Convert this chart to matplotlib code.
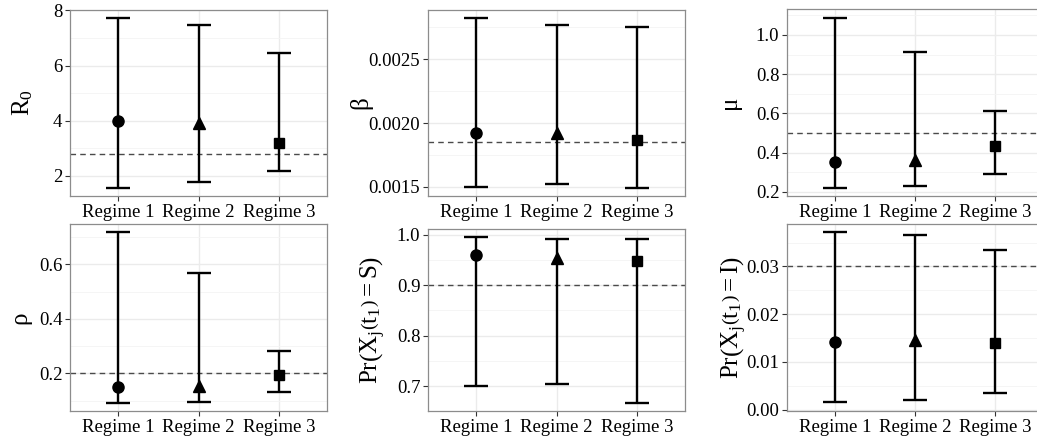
import numpy as np
import matplotlib
matplotlib.use("Agg")
import matplotlib.pyplot as plt
from matplotlib.ticker import MultipleLocator, AutoMinorLocator, FormatStrFormatter

plt.rcParams['font.family'] = ['Liberation Serif', 'DejaVu Serif']
plt.rcParams['mathtext.fontset'] = 'custom'
plt.rcParams['mathtext.rm'] = 'Liberation Serif'
plt.rcParams['mathtext.it'] = 'Liberation Serif:italic'

regimes = ['Regime 1', 'Regime 2', 'Regime 3']
markers = ['o', '^', 's']

# estimates, lower and upper bounds, true value for each parameter
r0_est = [4.0, 3.93, 3.21]
r0_lo = [1.58, 1.77, 2.19]
r0_hi = [7.71, 7.48, 6.45]
r0_true = 2.78

beta_est = [0.00192, 0.00192, 0.00187]
beta_lo = [0.00150, 0.00152, 0.001495]
beta_hi = [0.00282, 0.00277, 0.00275]
beta_true = 0.00185

mu_est = [0.351, 0.36, 0.433]
mu_lo = [0.222, 0.229, 0.29]
mu_hi = [1.089, 0.913, 0.612]
mu_true = 0.5

rho_est = [0.149, 0.152, 0.193]
rho_lo = [0.093, 0.095, 0.131]
rho_hi = [0.717, 0.569, 0.282]
rho_true = 0.2

s_est = [0.960, 0.953, 0.947]
s_lo = [0.700, 0.704, 0.667]
s_hi = [0.995, 0.992, 0.992]
s_true = 0.9

i_est = [0.0141, 0.0145, 0.0139]
i_lo = [0.0015, 0.0020, 0.0034]
i_hi = [0.0371, 0.0366, 0.0334]
i_true = 0.03

panels = [
    dict(est=r0_est, lo=r0_lo, hi=r0_hi, true=r0_true, label=r'R$_0$', step=2, fmt='%d',
         pos=[70, 10, 257, 186], lab=-0.135),
    dict(est=beta_est, lo=beta_lo, hi=beta_hi, true=beta_true, label='β', step=0.0005, fmt='%.4f',
         pos=[428, 10, 257, 186], lab=-0.215),
    dict(est=mu_est, lo=mu_lo, hi=mu_hi, true=mu_true, label='μ', step=0.2, fmt='%.1f',
         pos=[787, 9, 256, 187], lab=-0.18),
    dict(est=rho_est, lo=rho_lo, hi=rho_hi, true=rho_true, label='ρ', step=0.2, fmt='%.1f',
         pos=[70, 224, 257, 187], lab=-0.15),
    dict(est=s_est, lo=s_lo, hi=s_hi, true=s_true,
         label=r'$\mathrm{Pr}\left(\mathrm{X_j}\left(\mathrm{t_1}\right) = \mathrm{S}\right)$',
         step=0.1, fmt='%.1f', pos=[428, 229, 257, 182], lab=-0.155),
    dict(est=i_est, lo=i_lo, hi=i_hi, true=i_true,
         label=r'$\mathrm{Pr}\left(\mathrm{X_j}\left(\mathrm{t_1}\right) = \mathrm{I}\right)$',
         step=0.01, fmt='%.2f', pos=[787, 224, 256, 187], lab=-0.15),
]

W, H = 1037, 437
fig = plt.figure(figsize=(W / 100, H / 100), dpi=100)

for p in panels:
    x0, y0, w, h = p['pos']
    ax = fig.add_axes([x0 / W, 1 - (y0 + h) / H, w / W, h / H])
    x = np.arange(1, 4)
    est = np.array(p['est'])
    lo = np.array(p['lo'])
    hi = np.array(p['hi'])
    ax.errorbar(x, est, yerr=[est - lo, hi - est], fmt='none', ecolor='black',
                elinewidth=1.7, capsize=8.5, capthick=1.7, zorder=3)
    for xi, yi, m in zip(x, est, markers):
        ax.plot(xi, yi, marker=m, color='black', markersize=8 if m != 's' else 7.5,
                linestyle='none', zorder=4)
    ax.axhline(p['true'], color='#4a4a4a', linestyle=(0, (4, 3)), linewidth=1.0, zorder=2)

    span = max(hi) - min(lo)
    ax.set_ylim(min(lo) - 0.05 * span, max(hi) + 0.05 * span)
    ax.set_xlim(0.4, 3.6)
    ax.set_xticks(x)
    ax.set_xticklabels(regimes)
    ax.yaxis.set_major_locator(MultipleLocator(p['step']))
    ax.yaxis.set_minor_locator(AutoMinorLocator(2))
    ax.yaxis.set_major_formatter(FormatStrFormatter(p['fmt']))

    ax.grid(True, which='major', color='#EBEBEB', linewidth=1.0, zorder=0)
    ax.grid(True, which='minor', axis='y', color='#F4F4F4', linewidth=0.6, zorder=0)
    ax.set_axisbelow(True)
    for s in ax.spines.values():
        s.set_color('#8C8C8C')
        s.set_linewidth(0.9)
    ax.tick_params(which='major', length=3.5, width=0.8, color='#333333',
                   labelsize=13.5, labelcolor='black', pad=2)
    ax.tick_params(which='minor', length=0)
    ax.set_ylabel(p['label'], fontsize=18)
    ax.yaxis.set_label_coords(p['lab'], 0.5)

fig.savefig('out.png', dpi=100)
